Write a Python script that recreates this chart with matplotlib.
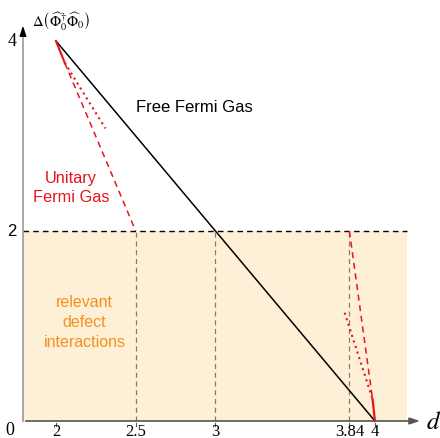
import matplotlib
matplotlib.use("Agg")
import matplotlib.pyplot as plt
from matplotlib.patches import Rectangle

plt.rcParams['mathtext.fontset'] = 'stix'

# data
free_x = [2, 4]
free_y = [4, 0]
ufg_solid_x = [2, 2.055]
ufg_solid_y = [4, 3.77]
ufg_dash_x = [2.055, 2.5]
ufg_dash_y = [3.77, 2]
ufg_dot_x = [2.055, 2.31]
ufg_dot_y = [3.77, 3.08]
low_dash_x = [3.84, 3.985]
low_dash_y = [2, 0.23]
low_dot_x = [3.81, 3.985]
low_dot_y = [1.14, 0.23]
low_solid_x = [3.985, 4]
low_solid_y = [0.23, 0]
vlines_x = [2.5, 3, 3.84]
xticks = [2, 2.5, 3, 3.84, 4]
xticklabels = ['2', '2.5', '3', '3.84', '4']

fig = plt.figure(figsize=(4.4, 4.39), dpi=100)
ax = fig.add_axes([0, 0, 1, 1])
ax.set_xlim(1.649, 4.408)
ax.set_ylim(-0.179, 4.442)
ax.axis('off')

x0 = 1.793
ax.add_patch(Rectangle((x0, 0), 4.2 - x0, 2, facecolor='#fdf0d6', edgecolor='none', zorder=0))
ax.plot([x0, 4.2], [2, 2], ls=(0, (4, 3)), color='black', lw=1.0, zorder=2)
for v in vlines_x:
    ax.plot([v, v], [0, 2], ls=(0, (4, 3)), color='#8a7a66', lw=0.9, zorder=1)

ax.plot(free_x, free_y, color='black', lw=1.1, zorder=3)
red = '#e8141c'
ax.plot(ufg_solid_x, ufg_solid_y, color=red, lw=1.5, zorder=4)
ax.plot(ufg_dash_x, ufg_dash_y, color=red, lw=1.1, ls=(0, (4, 3)), zorder=4)
ax.plot(ufg_dot_x, ufg_dot_y, color=red, lw=1.5, ls=(0, (1, 1.8)), zorder=4)
ax.plot(low_dash_x, low_dash_y, color=red, lw=1.1, ls=(0, (4, 3)), zorder=4)
ax.plot(low_dot_x, low_dot_y, color=red, lw=1.5, ls=(0, (1, 1.8)), zorder=4)
ax.plot(low_solid_x, low_solid_y, color=red, lw=1.6, zorder=4)

# axes
ax.annotate('', xy=(4.30, 0), xytext=(x0, 0),
            arrowprops=dict(arrowstyle='-|>,head_length=0.6,head_width=0.2', color='#555555', lw=1.2), zorder=5)
ax.plot([x0, x0], [0, 4.12], color='#999999', lw=1.2, zorder=5)
ax.annotate('', xy=(x0, 4.19), xytext=(x0, 4.05),
            arrowprops=dict(arrowstyle='-|>,head_length=0.6,head_width=0.2', color='black', lw=1.0), zorder=5)

for t, lab in zip(xticks, xticklabels):
    ax.plot([t, t], [-0.02, -0.05], color='#555555', lw=0.8)
    ax.text(t, -0.11, lab, ha='center', va='center', fontsize=12, family='Liberation Serif')

ax.text(1.724, 4.0, '4', ha='center', va='center', fontsize=13, family='Liberation Serif')
ax.text(1.724, 2.0, '2', ha='center', va='center', fontsize=12, family='Liberation Sans')
ax.text(1.712, -0.09, '0', ha='center', va='center', fontsize=13, family='Liberation Serif')
ax.text(4.37, 0.0, '$d$', ha='center', va='center', fontsize=18)
ax.text(1.852, 4.21, r'$\Delta\left(\widehat{\Phi}_0^{\dagger}\widehat{\Phi}_0\right)$', ha='left', va='center', fontsize=10.5)

ax.text(2.866, 3.31, 'Free Fermi Gas', ha='center', va='center', fontsize=12, family='Liberation Sans')
ax.text(2.094, 2.46, 'Unitary\nFermi Gas', ha='center', va='center', fontsize=11.8, color=red,
        family='Liberation Sans', linespacing=1.3)
ax.text(2.179, 1.05, 'relevant\ndefect\ninteractions', ha='center', va='center', fontsize=11.5,
        color='#f5901e', family='Liberation Sans', linespacing=1.4)

fig.savefig('out.png', dpi=100)
